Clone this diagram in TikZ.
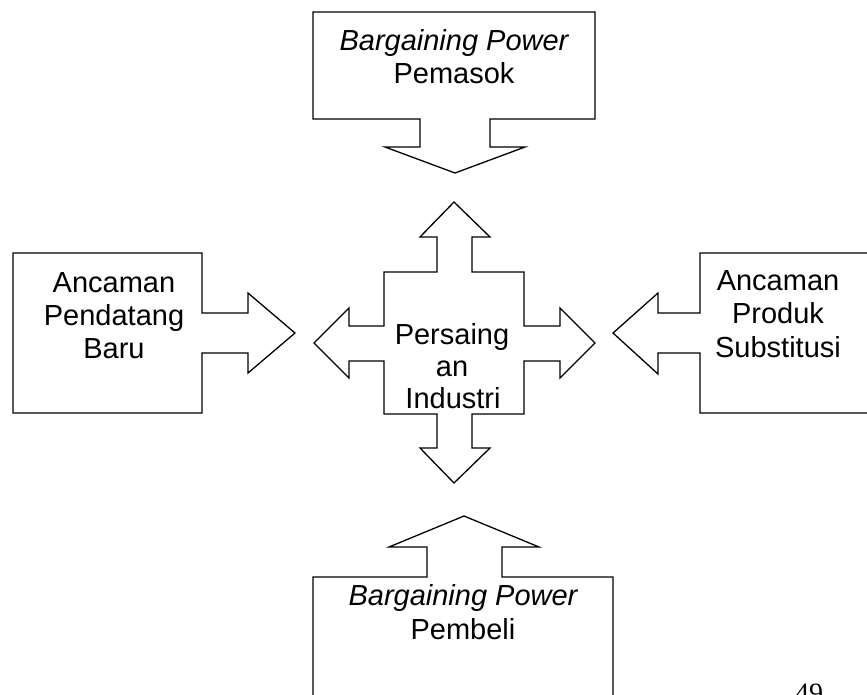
\documentclass[tikz,border=0pt]{standalone}
\usepackage{fontspec}
\setmainfont{Liberation Sans}
\newfontfamily\pagefont{Liberation Serif}
\begin{document}
\begin{tikzpicture}[x=1pt,y=-1pt,
  shapeline/.style={draw=black,line width=1.3pt,line join=miter,fill=white},
  lbl/.style={anchor=base,inner sep=0pt,font=\fontsize{29}{33}\selectfont},
  ilbl/.style={lbl,font=\fontsize{29}{33}\selectfont\itshape}]
\useasboundingbox (0,0) rectangle (867,694);
% top callout
\draw[shapeline] (313,12) -- (595,12) -- (595,119) -- (490,119) -- (490,147) -- (525,147)
  -- (455,173) -- (385,147) -- (420,147) -- (420,119) -- (313,119) -- cycle;
% left callout
\draw[shapeline] (13,253) -- (202,253) -- (202,313) -- (248,313) -- (248,293) -- (295,333)
  -- (248,373) -- (248,353) -- (202,353) -- (202,413) -- (13,413) -- cycle;
% right callout
\draw[shapeline] (890,253) -- (700,253) -- (700,313) -- (658,313) -- (658,293) -- (613,333)
  -- (658,374) -- (658,353) -- (700,353) -- (700,413) -- (890,413);
% bottom callout
\draw[shapeline] (313,710) -- (313,577) -- (427,577) -- (427,547) -- (389,547) -- (464,516)
  -- (539,547) -- (502,547) -- (502,577) -- (613,577) -- (613,710);
% central four-way arrow
\draw[shapeline] (454,202) -- (490,237) -- (472,237) -- (472,272) -- (524,272) -- (524,326)
  -- (560,326) -- (560,308) -- (595,343) -- (560,378) -- (560,361) -- (524,361) -- (524,414)
  -- (472,414) -- (472,448) -- (490,448) -- (454,483) -- (420,448) -- (437,448) -- (437,414)
  -- (384,414) -- (384,361) -- (349,361) -- (349,378) -- (314,343) -- (349,308) -- (349,326)
  -- (384,326) -- (384,272) -- (437,272) -- (437,237) -- (420,237) -- cycle;
% texts
\node[ilbl] (topa) at (454,50) {Bargaining Power};
\node[lbl] (topb) at (454,83) {Pemasok};
\node[lbl] (lefta) at (114,292) {Ancaman};
\node[lbl] (leftb) at (114,325) {Pendatang};
\node[lbl] (leftc) at (114,358) {Baru};
\node[lbl] (righta) at (778,290) {Ancaman};
\node[lbl] (rightb) at (778,323) {Produk};
\node[lbl] (rightc) at (778,357) {Substitusi};
\node[lbl] (cena) at (452,344) {Persaing};
\node[lbl] (cenb) at (452,376) {an};
\node[lbl] (cenc) at (453,408) {Industri};
\node[ilbl] (bota) at (463,605) {Bargaining Power};
\node[lbl] (botb) at (463,639) {Pembeli};
\node[anchor=base,inner sep=0pt,font=\pagefont\fontsize{28}{32}\selectfont] (pg) at (809,702) {49};
\end{tikzpicture}
\end{document}
